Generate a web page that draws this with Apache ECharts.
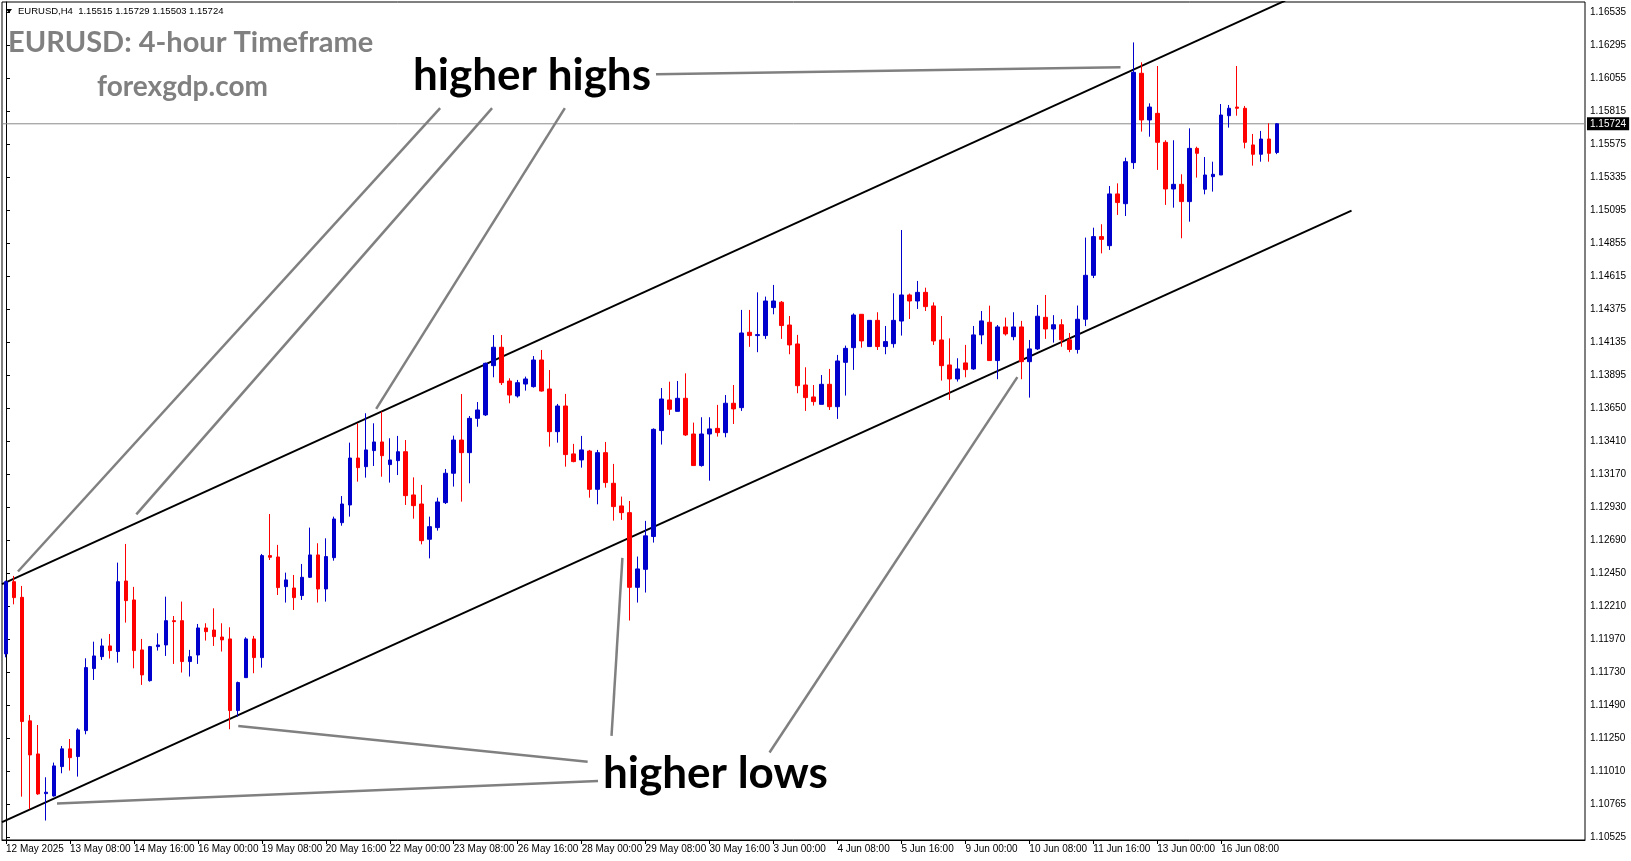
<!DOCTYPE html>
<html>
<head>
<meta charset="utf-8">
<script src="https://cdn.jsdelivr.net/npm/echarts@6/dist/echarts.min.js"></script>
<style>html,body{margin:0;padding:0;background:#fff}#c{width:1631px;height:861px}</style>
</head>
<body>
<div id="c"></div>
<script>
// ---- data ----
const xTickLabels = ['12 May 2025','13 May 08:00','14 May 16:00','16 May 00:00','19 May 08:00','20 May 16:00','22 May 00:00','23 May 08:00','26 May 16:00','28 May 00:00','29 May 08:00','30 May 16:00','3 Jun 00:00','4 Jun 08:00','5 Jun 16:00','9 Jun 00:00','10 Jun 08:00','11 Jun 16:00','13 Jun 00:00','16 Jun 08:00'];
const yTicks = [1.10525,1.10765,1.11010,1.11250,1.11490,1.11730,1.11970,1.12210,1.12450,1.12690,1.12930,1.13170,1.13410,1.13650,1.13895,1.14135,1.14375,1.14615,1.14855,1.15095,1.15335,1.15575,1.15815,1.16055,1.16295,1.16535];
const opens = [1.11862,1.12388,1.12274,1.11374,1.11133,1.10844,1.10827,1.11041,1.11170,1.11114,
1.11303,1.11755,1.11842,1.11920,1.11879,1.12393,1.12255,1.11891,1.11667,1.11915,
1.11927,1.12104,1.12104,1.11806,1.11854,1.12051,1.12036,1.11985,1.11971,1.11449,
1.11689,1.11971,1.11835,1.12578,1.12568,1.12352,1.12342,1.12287,1.12420,1.12583,
1.12335,1.12563,1.12818,1.12947,1.13289,1.13226,1.13343,1.13406,1.13241,1.13270,
1.13335,1.13020,1.12954,1.12697,1.12782,1.12964,1.13178,1.13420,1.13328,1.13578,
1.13603,1.13962,1.14096,1.13850,1.13741,1.13828,1.13809,1.14003,1.13792,1.13481,
1.13668,1.13319,1.13275,1.13340,1.13061,1.13328,1.13105,1.12940,1.12891,1.12347,
1.12478,1.12717,1.13489,1.13712,1.13629,1.13724,1.13464,1.13234,1.13464,1.13505,
1.13474,1.13688,1.13656,1.14205,1.14181,1.14181,1.14385,1.14424,1.14258,1.14120,
1.13821,1.13734,1.13680,1.13826,1.13663,1.13986,1.14093,1.14336,1.14101,1.14292,
1.14101,1.14122,1.14287,1.14477,1.14433,1.14496,1.14397,1.14149,1.13967,1.13865,
1.13982,1.13938,1.14186,1.14278,1.13999,1.14244,1.14173,1.14244,1.13991,1.14084,
1.14314,1.14229,1.14260,1.14150,1.14080,1.14300,1.14620,1.14902,1.14836,1.15213,
1.15142,1.15441,1.16092,1.15752,1.15800,1.15589,1.15249,1.15283,1.15157,1.15545,
1.15247,1.15339,1.15351,1.15783,1.15846,1.15837,1.15570,1.15502,1.15613,1.15515];
const highs = [1.12396,1.12430,1.12357,1.11417,1.11344,1.10963,1.11070,1.11191,1.11242,1.11320,
1.11830,1.11951,1.11973,1.12007,1.12527,1.12663,1.12350,1.11971,1.11920,1.12012,
1.12279,1.12138,1.12243,1.11891,1.12080,1.12085,1.12194,1.12085,1.12056,1.11660,
1.11983,1.11993,1.12590,1.12881,1.12656,1.12454,1.12437,1.12517,1.12782,1.12668,
1.12704,1.12862,1.13012,1.13401,1.13542,1.13615,1.13542,1.13627,1.13433,1.13450,
1.13420,1.13148,1.13093,1.12862,1.13000,1.13209,1.13452,1.13755,1.13595,1.13697,
1.13984,1.14185,1.14185,1.13870,1.13858,1.13882,1.14032,1.14076,1.13930,1.13683,
1.13756,1.13392,1.13450,1.13348,1.13348,1.13406,1.13246,1.13008,1.12976,1.12571,
1.12831,1.13505,1.13799,1.13845,1.13850,1.13906,1.13547,1.13586,1.13586,1.13676,
1.13748,1.13821,1.14368,1.14368,1.14496,1.14465,1.14550,1.14433,1.14324,1.14186,
1.13950,1.13821,1.13894,1.13938,1.14040,1.14108,1.14343,1.14338,1.14294,1.14351,
1.14251,1.14489,1.14950,1.14487,1.14579,1.14530,1.14423,1.14324,1.14161,1.14016,
1.14113,1.14251,1.14360,1.14399,1.14258,1.14312,1.14351,1.14288,1.14149,1.14404,
1.14477,1.14330,1.14300,1.14200,1.14400,1.14895,1.14967,1.14992,1.15271,1.15290,
1.15477,1.16317,1.16172,1.15873,1.16145,1.15604,1.15604,1.15356,1.15691,1.15557,
1.15482,1.15448,1.15868,1.15861,1.16145,1.15854,1.15650,1.15672,1.15728,1.15729];
const lows = [1.11837,1.12223,1.10822,1.10730,1.10835,1.10648,1.10822,1.10992,1.11012,1.10968,
1.11276,1.11672,1.11818,1.11828,1.11798,1.12090,1.11757,1.11636,1.11660,1.11886,
1.11847,1.11789,1.11726,1.11697,1.11789,1.11959,1.11920,1.11879,1.11313,1.11405,
1.11689,1.11721,1.11762,1.12546,1.12291,1.12236,1.12182,1.12255,1.12415,1.12236,
1.12243,1.12541,1.12796,1.12862,1.13117,1.13146,1.13231,1.13153,1.13110,1.13165,
1.12947,1.12847,1.12660,1.12558,1.12760,1.12954,1.13081,1.12971,1.13105,1.13517,
1.13595,1.13877,1.13821,1.13688,1.13729,1.13780,1.13802,1.13773,1.13372,1.13401,
1.13226,1.13258,1.13219,1.13000,1.12952,1.13073,1.12833,1.12838,1.12105,1.12236,
1.12309,1.12673,1.13387,1.13603,1.13629,1.13450,1.13234,1.13226,1.13124,1.13445,
1.13440,1.13537,1.13632,1.14099,1.14060,1.14157,1.14336,1.14157,1.14045,1.13761,
1.13632,1.13671,1.13680,1.13639,1.13574,1.13744,1.13931,1.14093,1.14101,1.14076,
1.14045,1.14093,1.14181,1.14302,1.14375,1.14360,1.14113,1.13853,1.13712,1.13846,
1.13877,1.13931,1.14118,1.13999,1.13863,1.14181,1.14147,1.13863,1.13729,1.14076,
1.14157,1.14130,1.14100,1.14060,1.14050,1.14250,1.14600,1.14780,1.14805,1.15060,
1.15052,1.15395,1.15667,1.15630,1.15388,1.15133,1.15113,1.14890,1.15011,1.15332,
1.15210,1.15230,1.15351,1.15696,1.15783,1.15545,1.15419,1.15448,1.15448,1.15503];
const closes = [1.12388,1.12272,1.11369,1.11126,1.10842,1.10854,1.11046,1.11170,1.11106,1.11308,
1.11762,1.11847,1.11920,1.11886,1.12388,1.12250,1.11886,1.11709,1.11915,1.11927,
1.12104,1.12097,1.11806,1.11842,1.12051,1.12024,1.11988,1.11964,1.11449,1.11653,
1.11971,1.11835,1.12578,1.12566,1.12345,1.12401,1.12272,1.12420,1.12583,1.12335,
1.12571,1.12845,1.12954,1.13289,1.13219,1.13348,1.13406,1.13306,1.13275,1.13335,
1.13015,1.12942,1.12687,1.12789,1.12969,1.13178,1.13420,1.13328,1.13578,1.13639,
1.13979,1.14096,1.13838,1.13748,1.13838,1.13865,1.14003,1.13777,1.13481,1.13668,
1.13314,1.13263,1.13348,1.13061,1.13328,1.13110,1.12935,1.12891,1.12347,1.12481,
1.12722,1.13498,1.13719,1.13644,1.13724,1.13457,1.13234,1.13464,1.13501,1.13474,
1.13688,1.13647,1.14200,1.14181,1.14188,1.14433,1.14433,1.14254,1.14113,1.13816,
1.13729,1.13700,1.13826,1.13663,1.13996,1.14088,1.14331,1.14142,1.14292,1.14101,
1.14137,1.14292,1.14477,1.14433,1.14496,1.14392,1.14142,1.13962,1.13865,1.13938,
1.13933,1.14186,1.14288,1.13999,1.14244,1.14193,1.14244,1.13991,1.14084,1.14322,
1.14229,1.14260,1.14150,1.14080,1.14300,1.14620,1.14902,1.14882,1.15213,1.15150,
1.15448,1.16099,1.15752,1.15846,1.15589,1.15249,1.15283,1.15157,1.15545,1.15509,
1.15351,1.15356,1.15788,1.15837,1.15837,1.15589,1.15502,1.15613,1.15509,1.15724];
const lastPrice = 1.15724;
// trend channel and annotation pointers, in (bar index, price)
const channelUpper = [[-0.5, 1.12370], [160, 1.16621]];
const channelLower = [[-0.5, 1.10636], [168.3, 1.15092]];
const highPointers = [
  [[81.3, 1.16085], [139.4, 1.16136]],
  [[54.3, 1.15838], [1.5, 1.12462]],
  [[60.8, 1.15838], [16.3, 1.12878]],
  [[69.9, 1.15838], [46.3, 1.13647]]
];
const lowPointers = [
  [[74.05, 1.10936], [6.38, 1.10772]],
  [[72.75, 1.11076], [29.05, 1.11337]],
  [[75.74, 1.11265], [77.1, 1.12562]],
  [[95.5, 1.11144], [126.5, 1.13878]]
];
const SLOTS = 198;

// ---- chart ----
const chart = echarts.init(document.getElementById('c'), null, {renderer: 'canvas'});
const cats = Array.from({length: SLOTS}, (_, i) => String(i));
const candles = opens.map((o, i) => [o, closes[i], lows[i], highs[i]]);
const FONT = 'Liberation Sans';
const BLUE = '#0000CD', RED = '#FF0000';
const showTick = (i) => i % 8 === 0 && i / 8 < xTickLabels.length;

chart.setOption({
  animation: false,
  backgroundColor: '#ffffff',
  grid: {left: 2, right: 46, top: 2, bottom: 21, show: true, borderColor: '#000', borderWidth: 1, backgroundColor: '#fff'},
  xAxis: [{
    type: 'category', data: cats, boundaryGap: true,
    axisLine: {show: true, lineStyle: {color: '#000', width: 1}},
    axisTick: {show: true, alignWithLabel: true, length: 4, lineStyle: {color: '#000'}, interval: showTick},
    axisLabel: {show: true, align: 'left', margin: 4, fontFamily: FONT, fontSize: 10, color: '#000',
      interval: showTick,
      formatter: (v, i) => (i % 8 === 0 && xTickLabels[i / 8]) ? xTickLabels[i / 8] : ''},
    splitLine: {show: false}
  }, {
    type: 'value', min: -0.5, max: SLOTS - 0.5, show: false
  }],
  yAxis: {
    type: 'value', position: 'right', min: 1.105061, max: 1.166113, scale: true,
    axisLine: {show: true, lineStyle: {color: '#000'}},
    axisTick: {show: true, length: 4, inside: false, lineStyle: {color: '#000'}, customValues: yTicks},
    axisLabel: {show: true, customValues: yTicks, margin: 5, fontFamily: FONT, fontSize: 10, color: '#000',
      formatter: (v) => v.toFixed(5)},
    splitLine: {show: false}
  },
  series: [
    {
      type: 'line', xAxisIndex: 1, yAxisIndex: 0, silent: true, z: 2, symbol: 'none', clip: false,
      lineStyle: {color: '#8a8a8a', width: 1, type: 'solid'},
      data: [[-0.5, lastPrice], [SLOTS - 0.5, lastPrice]],
      endLabel: {show: true, distance: 2, formatter: () => lastPrice.toFixed(5),
        backgroundColor: '#000', color: '#fff', padding: [2, 3, 1, 3], fontFamily: FONT, fontSize: 10}
    },
    {
      type: 'lines', coordinateSystem: 'cartesian2d', xAxisIndex: 1, yAxisIndex: 0, polyline: false,
      silent: true, z: 3,
      lineStyle: {color: '#000', width: 2, opacity: 1},
      data: [{coords: channelUpper}, {coords: channelLower}]
    },
    {
      type: 'lines', coordinateSystem: 'cartesian2d', xAxisIndex: 1, yAxisIndex: 0, polyline: false,
      silent: true, z: 3,
      lineStyle: {color: '#808080', width: 2.5, opacity: 1},
      data: highPointers.concat(lowPointers).map(c => ({coords: c}))
    },
    {
      type: 'candlestick', xAxisIndex: 0, yAxisIndex: 0, data: candles, barWidth: 4, z: 4,
      itemStyle: {color: BLUE, color0: RED, borderColor: BLUE, borderColor0: RED, borderWidth: 1}
    }
  ],
  graphic: [
    {type: 'polygon', shape: {points: [[6, 9], [12, 9], [9, 13]]}, style: {fill: '#000'}},
    {type: 'text', x: 18, y: 11, style: {text: 'EURUSD,H4  1.15515 1.15729 1.15503 1.15724', font: '9.5px "Liberation Sans"', fill: '#000', verticalAlign: 'middle'}},
    {type: 'text', x: 8, y: 43, style: {text: 'EURUSD: 4-hour Timeframe', font: 'bold 29px Lato', fill: '#808080', verticalAlign: 'middle'}},
    {type: 'text', x: 97, y: 87, style: {text: 'forexgdp.com', font: 'bold 28px Lato', fill: '#808080', verticalAlign: 'middle'}},
    {type: 'text', x: 413, y: 76, style: {text: 'higher highs', font: 'bold 44px Lato', fill: '#000', verticalAlign: 'middle'}},
    {type: 'text', x: 603, y: 774, style: {text: 'higher lows', font: 'bold 44px Lato', fill: '#000', verticalAlign: 'middle'}}
  ]
});
</script>
</body>
</html>
